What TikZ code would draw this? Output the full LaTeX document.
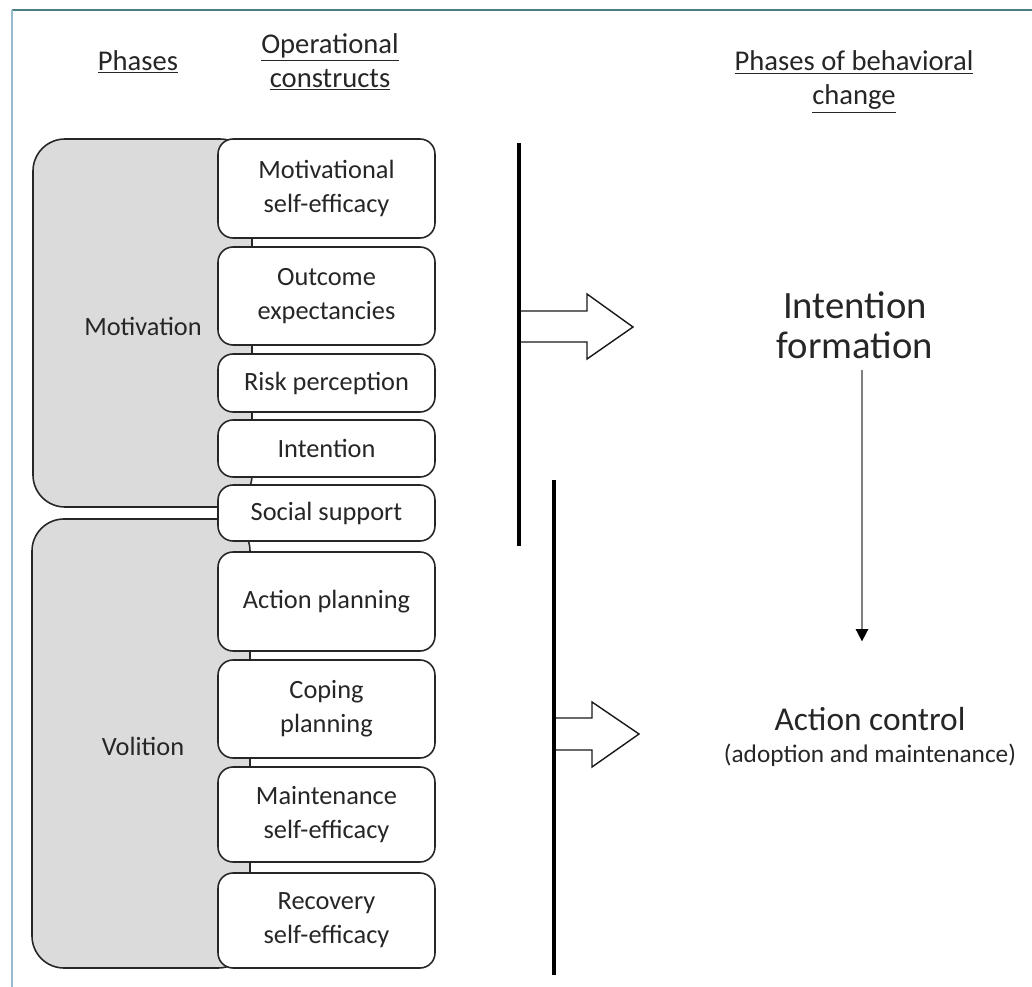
\documentclass[tikz,border=0pt]{standalone}
\usepackage{fontspec}
\setmainfont{Carlito}
\usetikzlibrary{arrows.meta}
\definecolor{frameteal}{RGB}{72,128,134}
\definecolor{frameblue}{RGB}{150,185,205}

\begin{document}
\begin{tikzpicture}[x=0.02cm, y=-0.02cm,
		construct/.style={draw=black!85, line width=0.9pt, fill=white, rounded corners=0.3cm, minimum width=4.34cm, inner sep=0pt, align=center, font=\fontsize{15}{19.3}\selectfont, text=black!85},
		phase/.style={draw=black!85, line width=0.9pt, fill=black!14, rounded corners=0.64cm},
		heading/.style={align=center, font=\fontsize{16.3}{19.3}\selectfont, text=black!85},
		label/.style={font=\fontsize{15}{19}\selectfont, text=black!85},
		stage/.style={align=center, font=\fontsize{22}{23}\selectfont, text=black!85},
		bar/.style={line width=2.3pt, line cap=butt},
		hollow/.style={draw=black!90, line width=0.8pt, fill=white, line join=miter},
		flow/.style={draw=black!50, line width=1pt, -{Triangle[black, length=7pt, width=7pt]}}]
		%%%%% START %%%%%
		
		\useasboundingbox (0,0) rectangle (1032,987);
		\draw[line width=1.7pt, color=frameteal] (12,10) -- (1032,10);
		\draw[line width=1.1pt, color=frameblue] (12,10) -- (12,987);
		
		\node[heading] (hphase) at (138,62) {\underline{Phases}};
		\node[heading] (hconstr) at (330,62) {\underline{Operational}\\\underline{constructs}};
		\node[heading] (hchange) at (854,82) {\underline{Phases of behavioral}\\\underline{change}};
		
		\draw[phase] (33,139) rectangle (252,507);
		\draw[phase] (32,519) rectangle (250,968);
		\node[label] (motiv) at (143,326) {Motivation};
		\node[label] (volit) at (143,746) {Volition};
		
		\node[construct, minimum height=1.98cm] (mse) at (326.5,188.5) {Motivational\\self-efficacy};
		\node[construct, minimum height=1.96cm] (oe) at (326.5,296) {Outcome\\expectancies};
		\node[construct, minimum height=1.16cm] (rp) at (326.5,383) {Risk perception};
		\node[construct, minimum height=1.14cm] (intn) at (326.5,448.5) {Intention};
		\node[construct, minimum height=1.12cm] (ss) at (326.5,513) {Social support};
		\node[construct, minimum height=1.98cm] (ap) at (326.5,601.5) {Action planning};
		\node[construct, minimum height=1.96cm] (cp) at (326.5,709) {Coping\\planning};
		\node[construct, minimum height=1.9cm] (mnt) at (326.5,814.5) {Maintenance\\self-efficacy};
		\node[construct, minimum height=1.9cm] (rse) at (326.5,920.5) {Recovery\\self-efficacy};
		
		\draw[hollow] (519,311) -- (587,311) -- (587,294) -- (633,327) -- (587,359) -- (587,342) -- (519,342) -- cycle;
		\draw[bar] (519,143) -- (519,546);
		
		\draw[hollow] (554,718) -- (592,718) -- (592,702) -- (639,734) -- (592,767) -- (592,750) -- (554,750) -- cycle;
		\draw[bar] (554,480) -- (554,975);
		
		\node[stage] (intent) at (855,325) {Intention\\formation};
		\node[stage, font=\fontsize{19}{18}\selectfont] (actctrl) at (870,737) {Action control\\\fontsize{14.4}{18}\selectfont(adoption and maintenance)};
		
		\draw[flow, shorten <=0.1cm, shorten >=1.2cm] (intent.south -| 862,0) -- (actctrl.north -| 862,0);
		
		%%%%% END %%%%%
	\end{tikzpicture}
\end{document}
